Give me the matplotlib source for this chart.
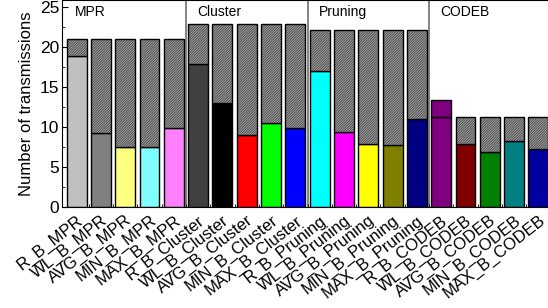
import numpy as np
import matplotlib.pyplot as plt
from matplotlib.ticker import MultipleLocator

plt.rcParams['font.family'] = ['Liberation Sans', 'DejaVu Sans']
plt.rcParams['hatch.linewidth'] = 0.45

groups = ["MPR", "Cluster", "Pruning", "CODEB"]
variants = ["R_B", "WL_B", "AVG_B", "MIN_B", "MAX_B"]
labels = [f"{v}_{g}" for g in groups for v in variants]

# colored part (lower) and total height of each bar
base = [18.8, 9.3, 7.45, 7.45, 9.9,
        17.9, 13.0, 9.05, 10.45, 9.9,
        16.95, 9.35, 7.9, 7.8, 11.0,
        11.3, 7.9, 6.85, 8.2, 7.2]
total = [21.0, 21.0, 21.0, 21.0, 21.0,
         22.8, 22.8, 22.8, 22.8, 22.8,
         22.1, 22.1, 22.1, 22.1, 22.1,
         13.4, 11.3, 11.3, 11.3, 11.3]
colors = ["#c0c0c0", "#808080", "#ffff80", "#80ffff", "#ff80ff",
          "#404040", "#000000", "#ff0000", "#00ff00", "#0000ff",
          "#00ffff", "#ff00ff", "#ffff00", "#808000", "#000080",
          "#800080", "#800000", "#008000", "#008080", "#0000a0"]

fig = plt.figure(figsize=(5.48, 3.08), dpi=100)
ax = fig.add_axes([62 / 548, 101 / 308, (553 - 62) / 548, 207 / 308 * 0.998])

x = np.arange(len(labels))
width = 0.82
ax.bar(x, base, width, color=colors, edgecolor="black", linewidth=1, zorder=2)
top = np.array(total) - np.array(base)
for i in range(len(x)):
    if i == 15:
        # R_B_CODEB: upper part in the same colour, no hatch
        ax.bar(x[i], top[i], width, bottom=base[i], color=colors[i],
               edgecolor="black", linewidth=1, zorder=2)
    else:
        ax.bar(x[i], top[i], width, bottom=base[i], color="white",
               edgecolor="black", hatch="/" * 20, linewidth=1, zorder=2)

# group separators and names
for b in [4.5, 9.5, 14.5]:
    ax.axvline(b, color="#707070", linewidth=1.2, zorder=1)
for k, g in enumerate(groups):
    ax.text(5 * k - 0.05, 24.4, g, fontsize=10, va="center", ha="left")

ax.set_xlim(-0.6, 19.6)
ax.set_ylim(0, 25.8)
ax.yaxis.set_major_locator(MultipleLocator(5))
ax.yaxis.set_minor_locator(MultipleLocator(2.5))
ax.set_xticks(x)
ax.set_xticks(x[:-1] + 0.5, minor=True)
ax.set_xticklabels(labels, rotation=38, ha="right", rotation_mode="anchor",
                   fontsize=12)
ax.tick_params(axis="y", labelsize=12.5, direction="in", length=4, pad=2)
ax.tick_params(axis="y", which="minor", direction="in", length=2)
ax.tick_params(axis="x", direction="in", length=4, pad=4)
ax.tick_params(axis="x", which="minor", direction="in", length=2)
ax.set_ylabel("Number of transmissions", fontsize=12, labelpad=4)
ax.spines["right"].set_visible(False)

fig.savefig("out.png", dpi=100)
